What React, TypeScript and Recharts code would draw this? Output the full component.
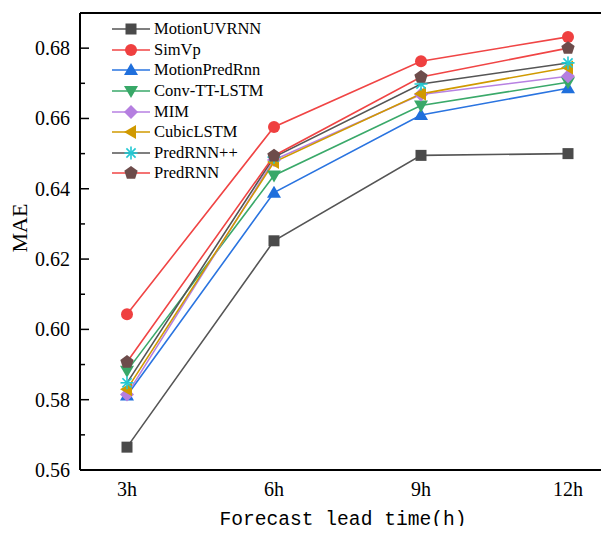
import React from "react";
import { LineChart, Line, XAxis, YAxis, Legend, ReferenceLine } from "recharts";

// lead times on the x axis
const categories = ["3h", "6h", "9h", "12h"];

// MAE per model
const motionUVRNN = [0.5665, 0.6252, 0.6495, 0.65];
const simVp = [0.6043, 0.6576, 0.6763, 0.6832];
const motionPredRnn = [0.5812, 0.6389, 0.661, 0.6686];
const convTTLSTM = [0.5882, 0.6438, 0.6637, 0.6703];
const mim = [0.5815, 0.6482, 0.6668, 0.672];
const cubicLSTM = [0.583, 0.6476, 0.667, 0.6745];
const predRNNpp = [0.5848, 0.649, 0.6698, 0.6758];
const predRNN = [0.5907, 0.6494, 0.6718, 0.68];

const yTicks = [0.56, 0.57, 0.58, 0.59, 0.6, 0.61, 0.62, 0.63, 0.64, 0.65, 0.66, 0.67, 0.68];

const SERIF = '"Liberation Serif", "Times New Roman", serif';

const series = [
  { key: "motionUVRNN", name: "MotionUVRNN", values: motionUVRNN, line: "#555555", fill: "#4a4a4a", shape: "square" },
  { key: "simVp", name: "SimVp", values: simVp, line: "#f04545", fill: "#ef4040", shape: "circle" },
  { key: "motionPredRnn", name: "MotionPredRnn", values: motionPredRnn, line: "#2a74e0", fill: "#1f6fdc", shape: "up" },
  { key: "convTTLSTM", name: "Conv-TT-LSTM", values: convTTLSTM, line: "#3aa96a", fill: "#38a868", shape: "down" },
  { key: "mim", name: "MIM", values: mim, line: "#b781e2", fill: "#b57fe0", shape: "diamond" },
  { key: "cubicLSTM", name: "CubicLSTM", values: cubicLSTM, line: "#d09a00", fill: "#d09900", shape: "left" },
  { key: "predRNNpp", name: "PredRNN++", values: predRNNpp, line: "#555555", fill: "#22c8d2", shape: "star" },
  { key: "predRNN", name: "PredRNN", values: predRNN, line: "#f04545", fill: "#6d4c4b", shape: "pentagon" },
];

const data = categories.map((c, i) => {
  const row: Record<string, any> = { lead: c };
  series.forEach((s) => (row[s.key] = s.values[i]));
  return row;
});

function Marker({ cx, cy, shape, fill }: { cx: number; cy: number; shape: string; fill: string }) {
  if (cx == null || cy == null) return null;
  switch (shape) {
    case "square":
      return <rect x={cx - 5.5} y={cy - 5.5} width={11} height={11} fill={fill} />;
    case "circle":
      return <circle cx={cx} cy={cy} r={6} fill={fill} />;
    case "up":
      return <polygon points={`${cx},${cy - 7} ${cx + 7},${cy + 5} ${cx - 7},${cy + 5}`} fill={fill} />;
    case "down":
      return <polygon points={`${cx},${cy + 7} ${cx + 7},${cy - 5} ${cx - 7},${cy - 5}`} fill={fill} />;
    case "diamond":
      return <polygon points={`${cx},${cy - 7} ${cx + 7},${cy} ${cx},${cy + 7} ${cx - 7},${cy}`} fill={fill} />;
    case "left":
      return <polygon points={`${cx - 7},${cy} ${cx + 5},${cy - 7} ${cx + 5},${cy + 7}`} fill={fill} />;
    case "star": {
      const r = 6.5;
      const d = r * 0.707;
      return (
        <g stroke={fill} strokeWidth={1.6}>
          <line x1={cx} y1={cy - r} x2={cx} y2={cy + r} />
          <line x1={cx - r} y1={cy} x2={cx + r} y2={cy} />
          <line x1={cx - d} y1={cy - d} x2={cx + d} y2={cy + d} />
          <line x1={cx - d} y1={cy + d} x2={cx + d} y2={cy - d} />
        </g>
      );
    }
    case "pentagon": {
      const pts = [0, 1, 2, 3, 4]
        .map((k) => {
          const a = -Math.PI / 2 + (k * 2 * Math.PI) / 5;
          return `${cx + 7 * Math.cos(a)},${cy + 7 * Math.sin(a)}`;
        })
        .join(" ");
      return <polygon points={pts} fill={fill} />;
    }
  }
  return null;
}

function YTick(props: any) {
  const { x, y, payload } = props;
  const major = Math.round(payload.value * 100) % 2 === 0;
  return (
    <g>
      <line x1={x} x2={x + (major ? 9 : 5)} y1={y} y2={y} stroke="#000" strokeWidth={1.5} />
      {major && (
        <text x={x - 10} y={y} dy="0.35em" textAnchor="end" fontFamily={SERIF} fontSize={20} fill="#000">
          {payload.value.toFixed(2)}
        </text>
      )}
    </g>
  );
}

function LegendBox() {
  return (
    <div style={{ fontFamily: SERIF, fontSize: 16.5, color: "#000" }}>
      {series.map((s) => (
        <div key={s.key} style={{ display: "flex", alignItems: "center", height: 20.6 }}>
          <svg width={40} height={20} style={{ overflow: "visible" }}>
            <line x1={0} x2={38} y1={10} y2={10} stroke={s.line} strokeWidth={1.6} />
            <Marker cx={19} cy={10} shape={s.shape} fill={s.fill} />
          </svg>
          <span style={{ marginLeft: 2, whiteSpace: "nowrap" }}>{s.name}</span>
        </div>
      ))}
    </div>
  );
}

export default function App() {
  return (
    <div>
      <style>{`.recharts-surface { overflow: visible; }`}</style>
      <LineChart width={593} height={518} data={data} margin={{ top: 5, right: 0, bottom: 0, left: 0 }}>
        <XAxis
          dataKey="lead"
          height={56}
          padding={{ left: 47, right: 33 }}
          tickSize={0}
          tickMargin={12}
          axisLine={{ stroke: "#000", strokeWidth: 2 }}
          tick={{ fontFamily: SERIF, fontSize: 20, fill: "#000" }}
          label={(p: any) => {
            const vb = p.viewBox || {};
            return (
              <text
                x={335}
                y={(vb.y || 462) + 55}
                textAnchor="middle"
                fontFamily='"Liberation Mono", monospace'
                fontSize={19.6}
                fill="#000"
              >
                Forecast lead time(h)
              </text>
            );
          }}
        />
        <YAxis
          width={72}
          domain={[0.56, 0.69]}
          ticks={yTicks}
          interval={0}
          tickSize={0}
          tickMargin={0}
          allowDataOverflow
          axisLine={{ stroke: "#000", strokeWidth: 2 }}
          tick={<YTick />}
          label={() => (
            <text x={19} y={220} textAnchor="middle" transform="rotate(-90 19 220)" fontFamily={SERIF} fontSize={22} fill="#000">
              MAE
            </text>
          )}
        />
        <ReferenceLine y={0.69} stroke="#000" strokeWidth={2} />
        <Legend
          layout="vertical"
          align="center"
          verticalAlign="middle"
          wrapperStyle={{ left: 104, top: 11, width: 200 }}
          content={() => <LegendBox />}
        />
        {series.map((s) => (
          <Line
            key={s.key}
            dataKey={s.key}
            name={s.name}
            type="linear"
            stroke={s.line}
            strokeWidth={1.6}
            isAnimationActive={false}
            dot={(p: any) => <Marker key={`${s.key}-${p.index}`} cx={p.cx} cy={p.cy} shape={s.shape} fill={s.fill} />}
            activeDot={false}
          />
        ))}
      </LineChart>
    </div>
  );
}
